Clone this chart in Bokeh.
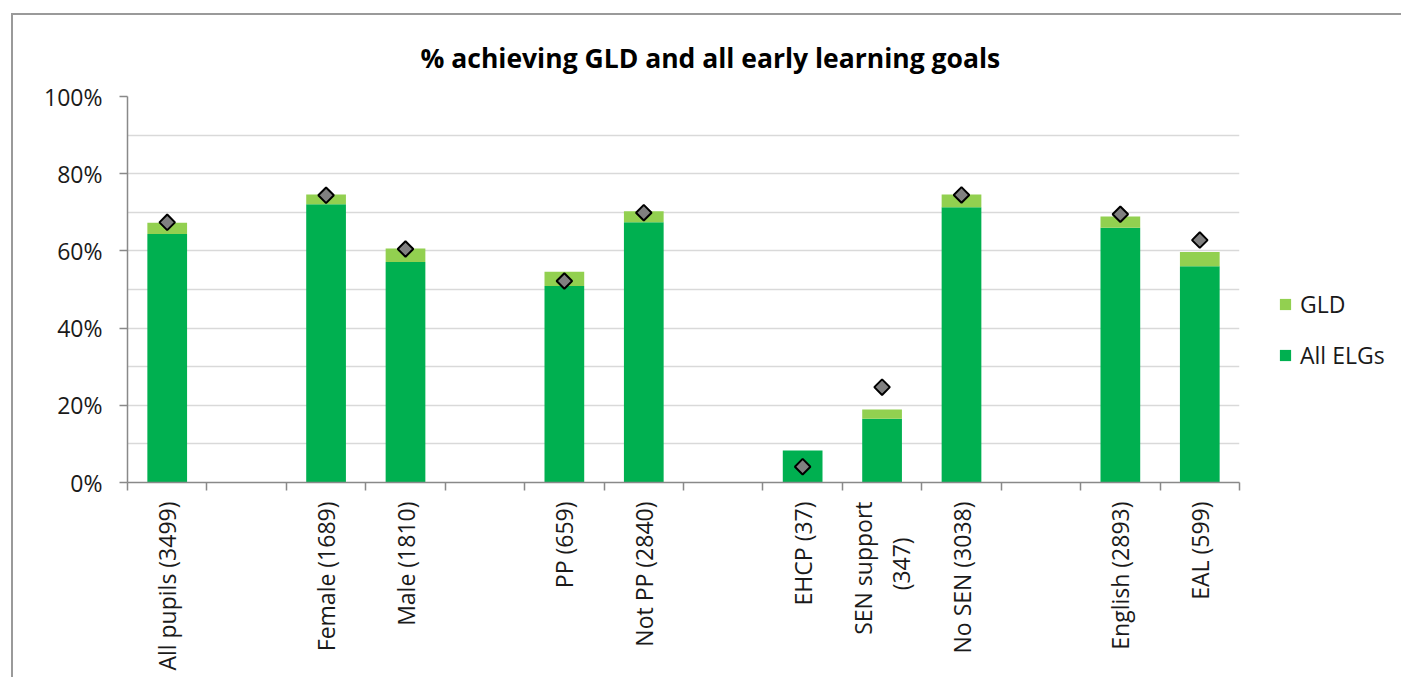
from math import pi
from bokeh.plotting import figure
from bokeh.models import (Range1d, FixedTicker, Legend, LegendItem, ColumnDataSource)
from bokeh.embed import file_html
from bokeh.resources import INLINE

# ---- data ----
groups = [
    ["All pupils (3499)"],
    ["Female (1689)", "Male (1810)"],
    ["PP (659)", "Not PP (2840)"],
    ["EHCP (37)", "SEN support\n(347)\u00a0\u00a0\u00a0\u00a0\u00a0\u00a0", "No SEN (3038)"],
    ["English (2893)", "EAL (599)"],
]
all_elgs = [64.4, 72.1, 57.1, 50.9, 67.4, 8.3, 16.5, 71.3, 66.0, 56.0]
gld      = [67.3, 74.6, 60.6, 54.6, 70.3, 8.3, 18.9, 74.6, 68.9, 59.7]
marker   = [67.4, 74.4, 60.5, 52.2, 69.9, 4.1, 24.7, 74.5, 69.5, 62.8]
y_ticks = [0, 20, 40, 60, 80, 100]
y_labels = ["0%", "20%", "40%", "60%", "80%", "100%"]

# slot positions: one empty slot between groups
labels, xs = [], []
slot = 0
for gi, g in enumerate(groups):
    if gi > 0:
        slot += 1
    for name in g:
        labels.append(name)
        xs.append(slot)
        slot += 1
n_slots = slot

src = ColumnDataSource(dict(x=xs, elg=all_elgs, gld=gld, m=marker,
                            zero=[0] * len(xs)))

FONT = "Open Sans"
TXT = "#1a1a1a"

p = figure(frame_width=1112, frame_height=386, output_backend="svg",
           toolbar_location=None,
           x_range=Range1d(-0.5, n_slots - 0.5), y_range=Range1d(0, 100),
           min_border_left=114, min_border_right=0, min_border_top=81,
           min_border_bottom=195)
p.outline_line_color = None
p.background_fill_color = "white"
p.border_fill_color = "white"
p.styles = {"margin-left": "11px", "margin-top": "13px",
            "border-left": "2px solid #9a9a9a", "border-top": "2px solid #9a9a9a",
            "border-right": "2px solid #9a9a9a"}

# title
p.title.text = "% achieving GLD and all early learning goals"
p.title.align = "left"
p.title.text_font = FONT
p.title.text_font_size = "26.5px"
p.title.text_font_style = "bold"
p.title.text_color = "black"
p.title.offset = 293
p.title.standoff = 41

# grid
p.xgrid.visible = False
p.ygrid.ticker = FixedTicker(ticks=list(range(0, 101, 10)))
p.ygrid.grid_line_color = "#d9d9d9"
p.ygrid.grid_line_width = 1.5

# bars
r_elg = p.vbar(x="x", bottom="zero", top="elg", width=0.5, source=src,
               fill_color="#00B050", line_color=None)
r_gld = p.vbar(x="x", bottom="elg", top="gld", width=0.5, source=src,
               fill_color="#92D050", line_color=None)
p.scatter(x="x", y="m", source=src, marker="square", angle=pi / 4, size=11,
          fill_color="#808080", line_color="black", line_width=2)

# x axis
xa = p.xaxis[0]
xa.ticker = FixedTicker(ticks=xs, minor_ticks=[i - 0.5 for i in range(n_slots + 1)])
xa.major_label_overrides = {x: l for x, l in zip(xs, labels)}
xa.major_label_orientation = pi / 2
xa.major_tick_out = 0
xa.major_tick_in = 0
xa.minor_tick_out = 8
xa.minor_tick_in = 0
xa.minor_tick_line_color = "#898989"
xa.minor_tick_line_width = 1.5
xa.axis_line_color = "#898989"
xa.axis_line_width = 1.5
xa.major_label_standoff = 11
xa.major_label_text_font = FONT
xa.major_label_text_font_size = "23px"
xa.major_label_text_color = TXT

# y axis
ya = p.yaxis[0]
ya.ticker = FixedTicker(ticks=y_ticks)
ya.major_label_overrides = {t: l for t, l in zip(y_ticks, y_labels)}
ya.major_tick_out = 8
ya.major_tick_in = 0
ya.minor_tick_out = 0
ya.minor_tick_in = 0
ya.major_tick_line_color = "#898989"
ya.major_tick_line_width = 1.5
ya.axis_line_color = "#898989"
ya.axis_line_width = 1.5
ya.major_label_standoff = 17
ya.major_label_text_font = FONT
ya.major_label_text_font_size = "23px"
ya.major_label_text_color = TXT

# legend
legend = Legend(items=[LegendItem(label="GLD", renderers=[r_gld]),
                       LegendItem(label="All ELGs", renderers=[r_elg])],
                location=(39, 111), orientation="vertical",
                glyph_width=14, glyph_height=14, label_height=20, spacing=19,
                padding=0, margin=0, border_line_color=None,
                background_fill_alpha=0, label_text_font=FONT,
                label_text_font_size="23px", label_text_color=TXT,
                label_standoff=8)
p.add_layout(legend, "right")

open("out.html", "w").write(file_html(p, INLINE))
